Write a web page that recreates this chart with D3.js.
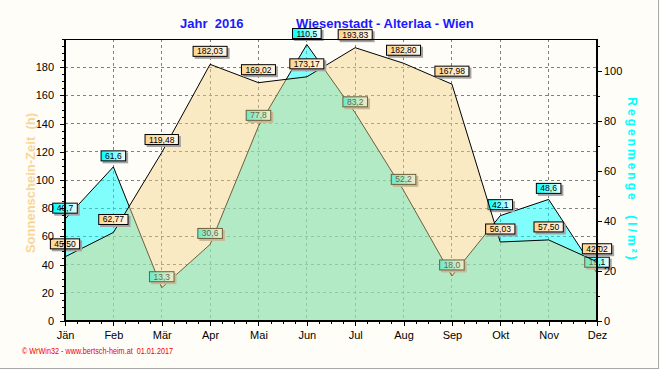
<!DOCTYPE html>
<html>
<head>
<meta charset="utf-8">
<script src="https://cdn.jsdelivr.net/npm/d3@7"></script>
<style>
	html, body { margin: 0; padding: 0; background: #fffdf8; }
	svg { display: block; font-family: Arial, "Liberation Sans", sans-serif; }
</style>
</head>
<body>
<svg id="chart" width="661" height="370"></svg>
<script>
;(() => {
	'use strict';

	// chart data
	const months = ['Jän', 'Feb', 'Mär', 'Apr', 'Mai', 'Jun', 'Jul', 'Aug', 'Sep', 'Okt', 'Nov', 'Dez'];
	const sunHours = [45.50, 62.77, 119.48, 182.03, 169.02, 173.17, 193.83, 182.80, 167.98, 56.03, 57.50, 42.02];
	const rainAmount = [40.7, 61.6, 13.3, 30.6, 77.8, 110.5, 83.2, 52.2, 18.0, 42.1, 48.6, 19.1];
	const sunTicks = [0, 20, 40, 60, 80, 100, 120, 140, 160, 180];
	const rainTicks = [0, 20, 40, 60, 80, 100];
	const sunMax = 200,
		rainMax = 112.7;

	const left = 65,
		right = 597,
		top = 39,
		bottom = 321,
		nbsp2 = '\u00a0\u00a0';

	const svg = d3.select('#chart');

	const x = d3.scalePoint().domain(months).range([left, right]),
		xIdx = d3.scaleLinear().domain([0, months.length - 1]).range([left, right]),
		ySun = d3.scaleLinear().domain([0, sunMax]).range([bottom, top]),
		yRain = d3.scaleLinear().domain([0, rainMax]).range([bottom, top]);

	const commaFmt = (digits) => (v) => v.toFixed(digits).replace('.', ',');

	// gradients for the value boxes
	const defs = svg.append('defs');
	const addGradient = function(id, from, to) {
		const g = defs.append('linearGradient').attr('id', id)
			.attr('x1', '0%').attr('x2', '100%').attr('y1', '0%').attr('y2', '0%');
		g.append('stop').attr('offset', '0%').attr('stop-color', from);
		g.append('stop').attr('offset', '100%').attr('stop-color', to);
	};
	addGradient('sunGrad', '#ffd690', '#fff6e8');
	addGradient('rainGrad', '#00ffff', '#f2ffff');

	// page borders
	svg.append('line').attr('x1', 658.5).attr('x2', 658.5).attr('y1', 0).attr('y2', 368)
		.attr('stroke', '#a8a8a8');
	svg.append('line').attr('x1', 0).attr('x2', 659).attr('y1', 368.5).attr('y2', 368.5)
		.attr('stroke', '#a8a8a8');

	// grid
	const grid = svg.append('g')
		.attr('stroke', '#808080')
		.attr('stroke-dasharray', '3,3')
		.attr('shape-rendering', 'crispEdges');
	grid.selectAll('.vgrid')
		.data(months.slice(1, -1))
		.enter().append('line')
		.attr('x1', d => x(d)).attr('x2', d => x(d))
		.attr('y1', top).attr('y2', bottom);
	grid.selectAll('.hgrid')
		.data(sunTicks.slice(1))
		.enter().append('line')
		.attr('x1', left).attr('x2', right)
		.attr('y1', d => ySun(d)).attr('y2', d => ySun(d));

	/**
	* draw value boxes above the points
	*/
	const drawLabels = function(values, yScale, fmt, gradId, lift) {
		const g = svg.append('g').attr('font-size', '8.5px');
		values.forEach((v, i) => {
			const cx = x(months[i]),
				cy = yScale(v) - lift,
				lbl = g.append('g');
			const txt = lbl.append('text')
				.attr('x', cx).attr('y', cy)
				.attr('text-anchor', 'middle')
				.attr('dominant-baseline', 'central')
				.attr('fill', '#000')
				.text(fmt(v));
			const w = txt.node().getComputedTextLength() + 9,
				h = 11;
			lbl.insert('rect', 'text')
				.attr('x', cx - w / 2 + 2).attr('y', cy - h / 2 + 2)
				.attr('width', w).attr('height', h)
				.attr('fill', '#a4a4a4');
			lbl.insert('rect', 'text')
				.attr('x', cx - w / 2 + 0.5).attr('y', cy - h / 2 + 0.5)
				.attr('width', w - 1).attr('height', h - 1)
				.attr('fill', 'url(#' + gradId + ')')
				.attr('stroke', '#000');
		});
	};

	// rain layer
	const rainArea = d3.area()
		.x((d, i) => x(months[i]))
		.y0(bottom)
		.y1(d => yRain(d));
	const rainLine = d3.line()
		.x((d, i) => x(months[i]))
		.y(d => yRain(d));

	svg.append('path').datum(rainAmount)
		.attr('d', rainArea)
		.attr('fill', '#00ffff')
		.attr('fill-opacity', 0.5);
	svg.append('path').datum(rainAmount)
		.attr('d', rainLine)
		.attr('fill', 'none')
		.attr('stroke', '#000');
	drawLabels(rainAmount, yRain, commaFmt(1), 'rainGrad', 11);

	// sunshine layer (half transparent over rain)
	const sunArea = d3.area()
		.x((d, i) => x(months[i]))
		.y0(bottom)
		.y1(d => ySun(d));
	const sunLine = d3.line()
		.x((d, i) => x(months[i]))
		.y(d => ySun(d));

	svg.append('path').datum(sunHours)
		.attr('d', sunArea)
		.attr('fill', 'rgb(242,210,133)')
		.attr('fill-opacity', 0.45);
	svg.append('path').datum(sunHours)
		.attr('d', sunLine)
		.attr('fill', 'none')
		.attr('stroke', '#000');
	drawLabels(sunHours, ySun, commaFmt(2), 'sunGrad', 13);

	// axes
	const styleAxis = function(g) {
		g.select('.domain').remove();
		g.selectAll('text').attr('fill', '#000')
			.attr('font-family', 'Arial, "Liberation Sans", sans-serif')
			.attr('font-size', '11px');
		g.selectAll('line').attr('stroke', '#000').attr('shape-rendering', 'crispEdges');
	};

	svg.append('g')
		.attr('transform', 'translate(' + left + ',0)')
		.call(d3.axisLeft(ySun).tickValues(d3.range(0, sunMax + 1, 5)).tickSize(3).tickFormat(''))
		.call(styleAxis);
	svg.append('g')
		.attr('transform', 'translate(' + left + ',0)')
		.call(d3.axisLeft(ySun).tickValues(sunTicks).tickSize(5).tickPadding(6))
		.call(styleAxis);

	svg.append('g')
		.attr('transform', 'translate(' + right + ',0)')
		.call(d3.axisRight(yRain).tickValues(d3.range(0, rainMax, 10)).tickSize(3).tickFormat(''))
		.call(styleAxis);
	svg.append('g')
		.attr('transform', 'translate(' + right + ',0)')
		.call(d3.axisRight(yRain).tickValues(rainTicks).tickSize(5).tickPadding(2))
		.call(styleAxis);

	const minorMonths = d3.range(0, (months.length - 1) * 4 + 1).map(q => q / 4);
	svg.append('g')
		.attr('transform', 'translate(0,' + bottom + ')')
		.call(d3.axisBottom(xIdx).tickValues(minorMonths).tickSize(3).tickFormat(''))
		.call(styleAxis);
	svg.append('g')
		.attr('transform', 'translate(0,' + bottom + ')')
		.call(d3.axisBottom(x).tickSize(5).tickPadding(5))
		.call(styleAxis);

	// frame
	const frame = svg.append('g').attr('stroke', '#000').attr('shape-rendering', 'crispEdges');
	frame.append('line').attr('x1', left).attr('x2', right).attr('y1', top).attr('y2', top).attr('stroke-width', 1);
	frame.append('line').attr('x1', left).attr('x2', left).attr('y1', top).attr('y2', bottom + 1).attr('stroke-width', 2);
	frame.append('line').attr('x1', right).attr('x2', right).attr('y1', top).attr('y2', bottom + 1).attr('stroke-width', 2);
	frame.append('line').attr('x1', left).attr('x2', right).attr('y1', bottom).attr('y2', bottom).attr('stroke-width', 2);

	// titles
	const title = svg.append('g')
		.attr('font-size', '13px')
		.attr('font-weight', 'bold')
		.attr('fill', '#1a1aff');
	title.append('text').attr('x', 180).attr('y', 28).text('Jahr' + nbsp2 + '2016');
	title.append('text').attr('x', 296).attr('y', 28).text('Wiesenstadt - Alterlaa - Wien');

	svg.append('text')
		.attr('transform', 'translate(30,183) rotate(-90)')
		.attr('text-anchor', 'middle')
		.attr('dominant-baseline', 'central')
		.attr('font-size', '13px')
		.attr('font-weight', 'bold')
		.attr('fill', '#f8d69a')
		.text('Sonnenschein-Zeit' + nbsp2 + '(h)');

	svg.append('text')
		.attr('transform', 'translate(632,180) rotate(90)')
		.attr('text-anchor', 'middle')
		.attr('dominant-baseline', 'central')
		.attr('font-size', '12px')
		.attr('font-weight', 'bold')
		.attr('letter-spacing', '3px')
		.attr('fill', '#00ffff')
		.text('Regenmenge' + nbsp2 + '(l/m²)');

	// footer
	svg.append('text')
		.attr('x', 22).attr('y', 354)
		.attr('font-size', '9px')
		.attr('fill', '#ee0000')
		.attr('textLength', 151)
		.attr('lengthAdjust', 'spacingAndGlyphs')
		.text('© WrWin32 - www.bertsch-heim.at' + nbsp2 + '01.01.2017');
})();
</script>
</body>
</html>
